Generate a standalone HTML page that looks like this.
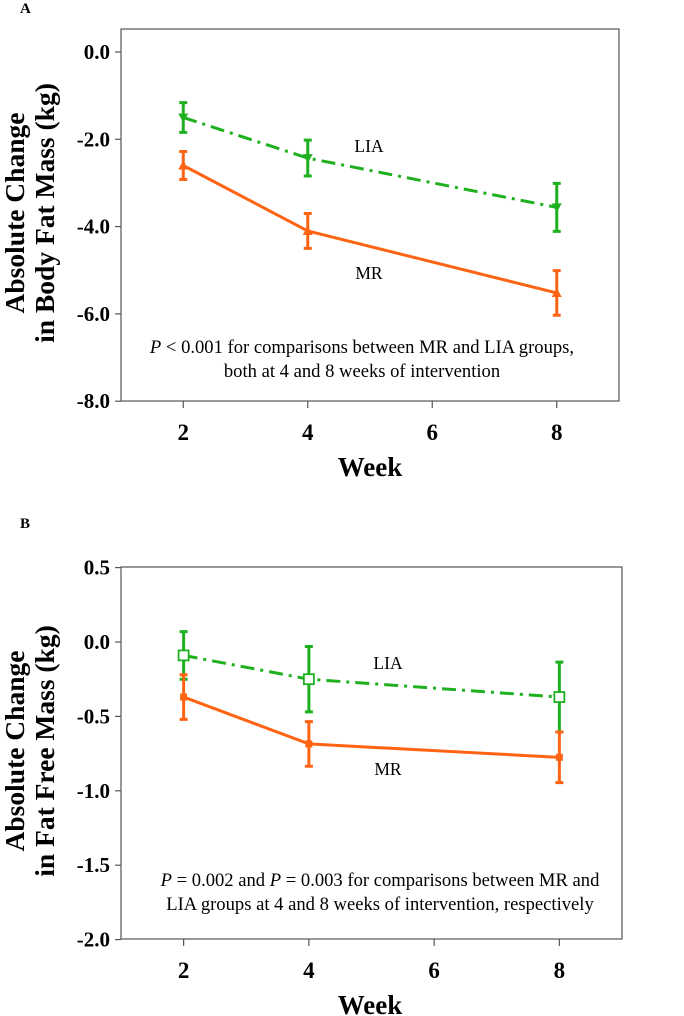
<!DOCTYPE html>
<html><head><meta charset="utf-8">
<style>
html,body{margin:0;padding:0;background:#fff;}
svg{display:block;font-family:"Liberation Serif",serif;}
</style></head>
<body>
<svg id="chart" width="684" height="1016" viewBox="0 0 684 1016" xmlns="http://www.w3.org/2000/svg"></svg>
<script>
const weeks = [2, 4, 8];
const xTicks = [2, 4, 6, 8];
const aLiaMean = [-1.5, -2.43, -3.56];
const aLiaErr = [0.34, 0.41, 0.55];
const aMrMean = [-2.6, -4.1, -5.52];
const aMrErr = [0.32, 0.4, 0.51];
const aTicks = [0, -2, -4, -6, -8];
const aTickLabels = ["0.0", "-2.0", "-4.0", "-6.0", "-8.0"];
const bLiaMean = [-0.09, -0.25, -0.37];
const bLiaErr = [0.16, 0.22, 0.235];
const bMrMean = [-0.37, -0.685, -0.775];
const bMrErr = [0.15, 0.15, 0.17];
const bTicks = [0.5, 0, -0.5, -1.0, -1.5, -2.0];
const bTickLabels = ["0.5", "0.0", "-0.5", "-1.0", "-1.5", "-2.0"];

const NS = "http://www.w3.org/2000/svg";
const svg = document.getElementById("chart");
const GREEN = "#1fb01f", ORANGE = "#ff6414";
function mk(tag, attrs, parent) {
  const e = document.createElementNS(NS, tag);
  for (const k in attrs) e.setAttribute(k, attrs[k]);
  (parent || svg).appendChild(e);
  return e;
}
function txt(s, attrs, parent) { const t = mk("text", attrs, parent); t.textContent = s; return t; }

function panel(cfg) {
  const g = mk("g", {});
  
  
  const L = 121, R = cfg.right, T = cfg.top, B = cfg.bottom;
  const x = w => L + (w - 1) / 8 * (R - L);
  const y = v => cfg.y0 + (cfg.v0 - v) * cfg.pxPerUnit;
  const box = mk("rect", {x: L, y: T, width: R - L, height: B - T, fill: "none", stroke: "#555", "stroke-width": 1.2}, g);
  
  
  cfg.ticks.forEach((v, i) => {
    const tk = mk("line", {x1: L - 6, x2: L, y1: y(v), y2: y(v), stroke: "#555", "stroke-width": 1.2}, g);
    
    
    const lb = txt(cfg.tickLabels[i], {x: 110, y: y(v) + 7, "text-anchor": "end", "font-size": 21, "font-weight": "bold"}, g);
    
    
  });
  xTicks.forEach(w => {
    const tk = mk("line", {x1: x(w), x2: x(w), y1: B, y2: B + 7, stroke: "#555", "stroke-width": 1.2}, g);
    
    
    const lb = txt(String(w), {x: x(w), y: B + 39, "text-anchor": "middle", "font-size": 23, "font-weight": "bold"}, g);
    
    
  });
  const xt = txt("Week", {x: 370, y: B + 75, "text-anchor": "middle", "font-size": 27, "font-weight": "bold"}, g);
  
  
  const cy = cfg.titleY;
  const yt = txt("", {transform: `translate(30,${cy}) rotate(-90)`, "text-anchor": "middle", "font-size": 27.5, "font-weight": "bold"}, g);
  
  
  const t1 = mk("tspan", {x: 0, y: -6}, yt); t1.textContent = cfg.yTitle[0];
  const t2 = mk("tspan", {x: 0, y: 24}, yt); t2.textContent = cfg.yTitle[1];
  const pl = txt(cfg.letter, {x: 20, y: cfg.letterY, "font-size": 15, "font-weight": "bold"}, g);
  
  

  function series(name, means, errs, color, dash, marker) {
    const sg = mk("g", {}, g);
    
    
    const pts = weeks.map((w, i) => x(w) + "," + y(means[i])).join(" ");
    const ln = mk("polyline", {points: pts, fill: "none", stroke: color, "stroke-width": 3, "stroke-dasharray": dash || "none"}, sg);
    
    
    weeks.forEach((w, i) => {
      const cx = x(w), yt2 = y(means[i] + errs[i]), yb = y(means[i] - errs[i]);
      const eb = mk("path", {d: `M${cx},${yt2}V${yb}M${cx-4},${yt2}H${cx+4}M${cx-4},${yb}H${cx+4}`, stroke: color, "stroke-width": 3, fill: "none"}, sg);
      
      
      const my = y(means[i]);
      let m;
      if (marker === "down") m = mk("path", {d: `M${cx-5},${my-4}H${cx+5}L${cx},${my+5}Z`, fill: color}, sg);
      else if (marker === "up") m = mk("path", {d: `M${cx-5},${my+4}H${cx+5}L${cx},${my-5}Z`, fill: color}, sg);
      else if (marker === "square") m = mk("rect", {x: cx - 5, y: my - 5, width: 10, height: 10, fill: "#fff", stroke: color, "stroke-width": 1.8}, sg);
      else m = mk("rect", {x: cx - 3.5, y: my - 3.5, width: 7, height: 7, fill: color}, sg);
      
      
    });
  }
  series("lia-series", cfg.lia, cfg.liaErr, GREEN, "14,6,3,6", cfg.liaMarker);
  series("mr-series", cfg.mr, cfg.mrErr, ORANGE, null, cfg.mrMarker);
  const l1 = txt("LIA", {x: cfg.labX, y: cfg.liaY, "text-anchor": "middle", "font-size": 17.5}, g);
  
  
  const l2 = txt("MR", {x: cfg.labX, y: cfg.mrY, "text-anchor": "middle", "font-size": 17.5}, g);
  
  
  const note = txt("", {"text-anchor": "middle", "font-size": 18.6}, g);
  
  
  cfg.note.forEach((line, i) => {
    const ts = mk("tspan", {x: cfg.noteX, y: cfg.noteY + i * 24}, note);
    line.forEach(part => {
      const s = mk("tspan", part.i ? {"font-style": "italic"} : {}, ts);
      s.textContent = part.t;
    });
  });
}

panel({name: "panel-a-body-fat", letter: "A", letterY: 13, top: 29, bottom: 401, right: 619, titleY: 213,
  y0: 52, v0: 0, pxPerUnit: 43.65, ticks: aTicks, tickLabels: aTickLabels,
  yTitle: ["Absolute Change", "in Body Fat Mass (kg)"],
  lia: aLiaMean, liaErr: aLiaErr, mr: aMrMean, mrErr: aMrErr, liaMarker: "down", mrMarker: "up",
  labX: 369, liaY: 152, mrY: 279, noteX: 362, noteY: 353,
  note: [[{t: "P", i: 1}, {t: " < 0.001 for comparisons between MR and LIA groups,"}], [{t: "both at 4 and 8 weeks of intervention"}]]});

panel({name: "panel-b-fat-free", letter: "B", letterY: 528, top: 567, bottom: 939, right: 622, titleY: 751,
  y0: 642, v0: 0, pxPerUnit: 148.8, ticks: bTicks, tickLabels: bTickLabels,
  yTitle: ["Absolute Change", "in Fat Free Mass (kg)"],
  lia: bLiaMean, liaErr: bLiaErr, mr: bMrMean, mrErr: bMrErr, liaMarker: "square", mrMarker: "small",
  labX: 388, liaY: 669, mrY: 775, noteX: 380, noteY: 886,
  note: [[{t: "P", i: 1}, {t: " = 0.002 and "}, {t: "P", i: 1}, {t: " = 0.003 for comparisons between MR and"}], [{t: "LIA groups at 4 and 8 weeks of intervention, respectively"}]]});
</script>
</body></html>
